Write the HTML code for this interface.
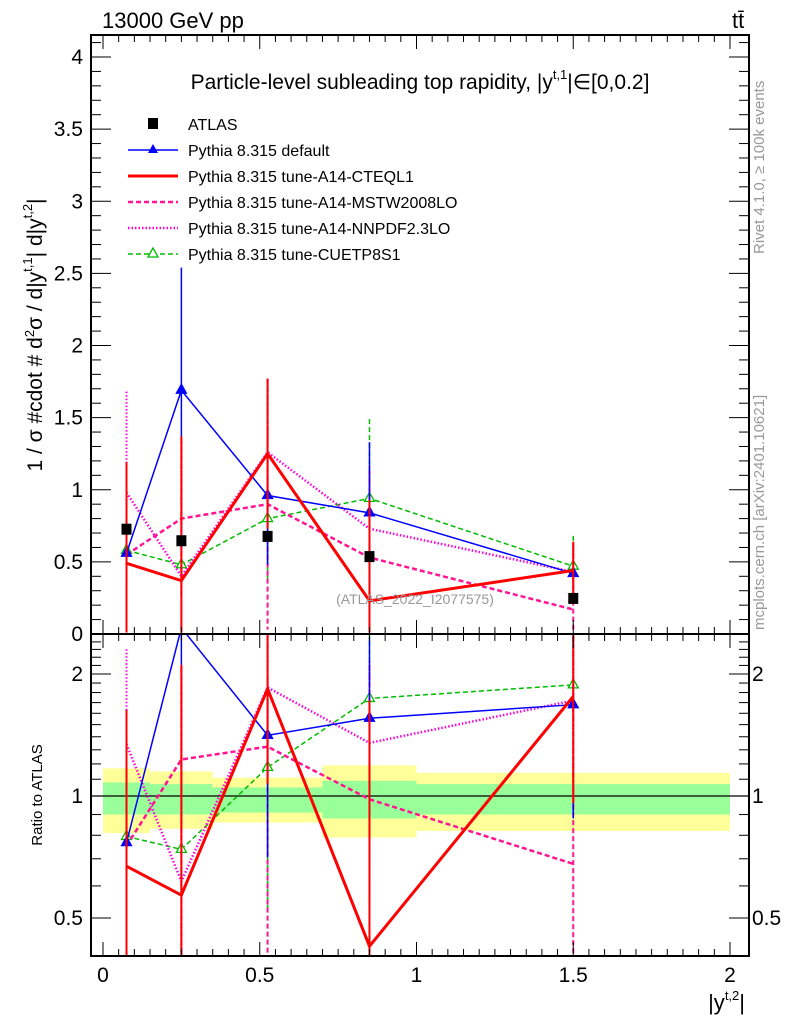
<!DOCTYPE html>
<html><head><meta charset="utf-8">
<style>
html,body{margin:0;padding:0;background:#fff;overflow:hidden;width:786px;height:1024px;}
svg{display:block;font-family:"Liberation Sans",sans-serif;}
</style></head>
<body>
<svg id="chart" width="786" height="1024" xmlns="http://www.w3.org/2000/svg">
<g id="bands"></g>
<g id="marks"></g>
<g id="axes"></g>
<text x="102" y="28" font-size="22">13000 GeV pp</text>
<text x="732" y="28" font-size="22">tt̄</text>
<text x="420" y="89" font-size="21" text-anchor="middle">Particle-level subleading top rapidity, |y<tspan font-size="13" dy="-10">t,1</tspan><tspan dy="10">|∈[0,0.2]</tspan></text>
<g font-size="16">
<rect x="148" y="118" width="10" height="11" fill="#000"/>
<text x="188" y="130">ATLAS</text>
<line x1="128" y1="150" x2="178" y2="150" stroke="#0000ff" stroke-width="1.5"/><polygon points="153,144 148,153 158,153" fill="#0000ff"/>
<text x="188" y="156">Pythia 8.315 default</text>
<line x1="128" y1="176" x2="178" y2="176" stroke="#ff0000" stroke-width="3"/>
<text x="188" y="182">Pythia 8.315 tune-A14-CTEQL1</text>
<line x1="128" y1="202" x2="178" y2="202" stroke="#ff1493" stroke-width="2.5" stroke-dasharray="5,3"/>
<text x="188" y="208">Pythia 8.315 tune-A14-MSTW2008LO</text>
<line x1="128" y1="228" x2="178" y2="228" stroke="#ff00dd" stroke-width="2.5" stroke-dasharray="1.5,2"/>
<text x="188" y="234">Pythia 8.315 tune-A14-NNPDF2.3LO</text>
<line x1="128" y1="254" x2="178" y2="254" stroke="#00bb00" stroke-width="1.5" stroke-dasharray="5,3"/><polygon points="153,248 148,257 158,257" fill="#fff" stroke="#00bb00" stroke-width="1.3"/>
<text x="188" y="260">Pythia 8.315 tune-CUETP8S1</text>
</g>
<text x="415" y="604" font-size="14" fill="#999" text-anchor="middle">(ATLAS_2022_I2077575)</text>
<text transform="translate(764,254) rotate(-90)" font-size="15" fill="#999">Rivet 4.1.0, ≥ 100k events</text>
<text transform="translate(764,630) rotate(-90)" font-size="15" fill="#999">mcplots.cern.ch [arXiv:2401.10621]</text>
<text transform="translate(42,335) rotate(-90)" font-size="21" text-anchor="middle">1 / σ #cdot # d<tspan font-size="13" dy="-8">2</tspan><tspan dy="8">σ / d|y</tspan><tspan font-size="13" dy="-10">t,1</tspan><tspan dy="10">| d|y</tspan><tspan font-size="13" dy="-10">t,2</tspan><tspan dy="10">|</tspan></text>
<text transform="translate(42,795) rotate(-90)" font-size="15" text-anchor="middle">Ratio to ATLAS</text>
<text x="745" y="1010" font-size="22" text-anchor="end">|y<tspan font-size="13" dy="-10">t,2</tspan><tspan dy="10">|</tspan></text>
</svg>
<script>
const xCenters=[0.075,0.25,0.525,0.85,1.5];
const binEdges=[0,0.15,0.35,0.7,1.0,2.0];
const atlas=[0.73,0.65,0.68,0.54,0.25];
const bandYelUp=[1.17,1.15,1.11,1.19,1.14];
const bandYelDn=[0.81,0.83,0.86,0.79,0.82];
const bandGrnUp=[1.08,1.07,1.05,1.09,1.07];
const bandGrnDn=[0.90,0.90,0.91,0.88,0.90];
const sDefault=[0.56,1.69,0.96,0.84,0.42];
const eDefault=[0.56,0.85,0.48,0.49,0.2];
const sCteq=[0.49,0.37,1.25,0.23,0.44];
const eCteq=[0.7,1.0,0.52,0.7,0.2];
const sMstw=[0.55,0.80,0.90,0.53,0.17];
const eMstw=[0.6,0.55,0.87,0.6,0.45];
const sNnpdf=[0.98,0.40,1.26,0.73,0.43];
const eNnpdf=[0.7,0.95,0.5,0.43,0.2];
const sCuetp=[0.58,0.48,0.80,0.94,0.47];
const eCuetp=[0.4,0.46,0.45,0.55,0.21];
const xTicks=[0,0.5,1,1.5,2];
const xTickLabels=["0","0.5","1","1.5","2"];
const yTicks=[0,0.5,1,1.5,2,2.5,3,3.5,4];
const yTickLabels=["0","0.5","1","1.5","2","2.5","3","3.5","4"];
const rTicks=[0.5,1,2];
const rTickLabels=["0.5","1","2"];

const NS="http://www.w3.org/2000/svg";
const FL=91,FR=749,MT=35,MB=634,RB=956;
const X=v=>103+v*(730-103)/2;
const Y=v=>634-v*144.25;
const R=v=>796-Math.log2(v)*122;
function mk(p,t,a){const e=document.createElementNS(NS,t);for(const k in a)e.setAttribute(k,a[k]);p.appendChild(e);return e;}
const bands=document.getElementById('bands'),marks=document.getElementById('marks'),axes=document.getElementById('axes');
for(let i=0;i<xCenters.length;i++){
 const y1=mk(bands,'rect',{x:X(binEdges[i]),y:R(bandYelUp[i]),width:X(binEdges[i+1])-X(binEdges[i]),height:R(bandYelDn[i])-R(bandYelUp[i]),fill:'#ffff99'});
 
 
 const g1=mk(bands,'rect',{x:X(binEdges[i]),y:R(bandGrnUp[i]),width:X(binEdges[i+1])-X(binEdges[i]),height:R(bandGrnDn[i])-R(bandGrnUp[i]),fill:'#99ff99'});
 
 
}
mk(bands,'line',{x1:FL,x2:FR,y1:R(1),y2:R(1),stroke:'#000','stroke-width':1.2});
mk(marks,'clipPath',{id:'cm'}).appendChild(document.createElementNS(NS,'rect'));
const cm=document.querySelector('#cm rect');cm.setAttribute('x',FL);cm.setAttribute('y',MT);cm.setAttribute('width',FR-FL);cm.setAttribute('height',MB-MT);
mk(marks,'clipPath',{id:'cr'}).appendChild(document.createElementNS(NS,'rect'));
const cr=document.querySelector('#cr rect');cr.setAttribute('x',FL);cr.setAttribute('y',MB);cr.setAttribute('width',FR-FL);cr.setAttribute('height',RB-MB);
const gm=mk(marks,'g',{'clip-path':'url(#cm)'}),gr=mk(marks,'g',{'clip-path':'url(#cr)'});
const series=[
 {v:sCuetp,e:eCuetp,c:'#00bb00',w:1.5,d:'5,3',m:'open',n:'cuetp8s1'},
 {v:sNnpdf,e:eNnpdf,c:'#ff00dd',w:2.5,d:'1.5,2',m:null,n:'nnpdf'},
 {v:sMstw,e:eMstw,c:'#ff1493',w:2.5,d:'5,3',m:null,n:'mstw'},
 {v:sDefault,e:eDefault,c:'#0000ff',w:1.5,d:'',m:'fill',n:'default'},
 {v:sCteq,e:eCteq,c:'#ff0000',w:3,d:'',m:null,n:'cteql1'}];
series.forEach(s=>{
 [[gm,Y,i=>s.v[i],i=>s.e[i]],[gr,R,i=>s.v[i]/atlas[i],i=>s.e[i]/atlas[i]]].forEach(([g,F,val,err])=>{
  const pts=xCenters.map((x,i)=>X(x)+','+F(val(i))).join(' ');
  const pl=mk(g,'polyline',{points:pts,fill:'none',stroke:s.c,'stroke-width':s.w,'stroke-dasharray':s.d});
  
  
  xCenters.forEach((x,i)=>{
   const lo=Math.max(val(i)-err(i),0.01);
   const eb=mk(g,'line',{x1:X(x),x2:X(x),y1:F(val(i)+err(i)),y2:F(lo),stroke:s.c,'stroke-width':Math.min(s.w,2),'stroke-dasharray':s.d});
   
   
   if(s.m){const cx=X(x),cy=F(val(i));
    const p=mk(g,'polygon',{points:`${cx},${cy-6} ${cx-5},${cy+3} ${cx+5},${cy+3}`,fill:s.m=='fill'?s.c:'#fff',stroke:s.c,'stroke-width':1.3});
    
    }
  });
 });
});
xCenters.forEach((x,i)=>{
 const r=mk(gm,'rect',{x:X(x)-5,y:Y(atlas[i])-5,width:10,height:11,fill:'#000'});
 
 
});
mk(axes,'rect',{x:FL,y:MT,width:FR-FL,height:MB-MT,fill:'none',stroke:'#000','stroke-width':2});
mk(axes,'rect',{x:FL,y:MB,width:FR-FL,height:RB-MB,fill:'none',stroke:'#000','stroke-width':2});
for(let v=0;v<=2.0001;v+=0.05){const maj=Math.abs(v*2-Math.round(v*2))<1e-6;const L=maj?14:7;
 [[MB,MT],[RB,MB]].forEach(([b,t])=>{mk(axes,'line',{x1:X(v),x2:X(v),y1:b,y2:b-L,stroke:'#000'});mk(axes,'line',{x1:X(v),x2:X(v),y1:t,y2:t+L,stroke:'#000'});});}
xTicks.forEach((v,i)=>{const t=mk(axes,'text',{x:X(v),y:982,'font-size':21,'text-anchor':'middle'});t.textContent=xTickLabels[i];
 
 });
for(let v=0;v<=4.15;v+=0.1){const maj=Math.abs(v*2-Math.round(v*2))<1e-6;const L=maj?20:10;
 mk(axes,'line',{x1:FL,x2:FL+L,y1:Y(v),y2:Y(v),stroke:'#000'});mk(axes,'line',{x1:FR,x2:FR-L,y1:Y(v),y2:Y(v),stroke:'#000'});}
yTicks.forEach((v,i)=>{const t=mk(axes,'text',{x:83,y:Y(v)+7,'font-size':21,'text-anchor':'end'});t.textContent=yTickLabels[i];
 
 });
[0.4,0.5,0.6,0.7,0.8,0.9,1,1.1,1.2,1.3,1.4,1.5,1.6,1.7,1.8,1.9,2,2.1,2.2,2.3,2.4].forEach(v=>{const maj=rTicks.includes(v);const L=maj?20:10;
 if(R(v)<MB||R(v)>RB)return;
 mk(axes,'line',{x1:FL,x2:FL+L,y1:R(v),y2:R(v),stroke:'#000'});mk(axes,'line',{x1:FR,x2:FR-L,y1:R(v),y2:R(v),stroke:'#000'});});
rTicks.forEach((v,i)=>{const t=mk(axes,'text',{x:83,y:R(v)+7,'font-size':21,'text-anchor':'end'});t.textContent=rTickLabels[i];
 
 
 const t2=mk(axes,'text',{x:752,y:R(v)+7,'font-size':21});t2.textContent=rTickLabels[i];
 
 });
</script>
</body></html>
